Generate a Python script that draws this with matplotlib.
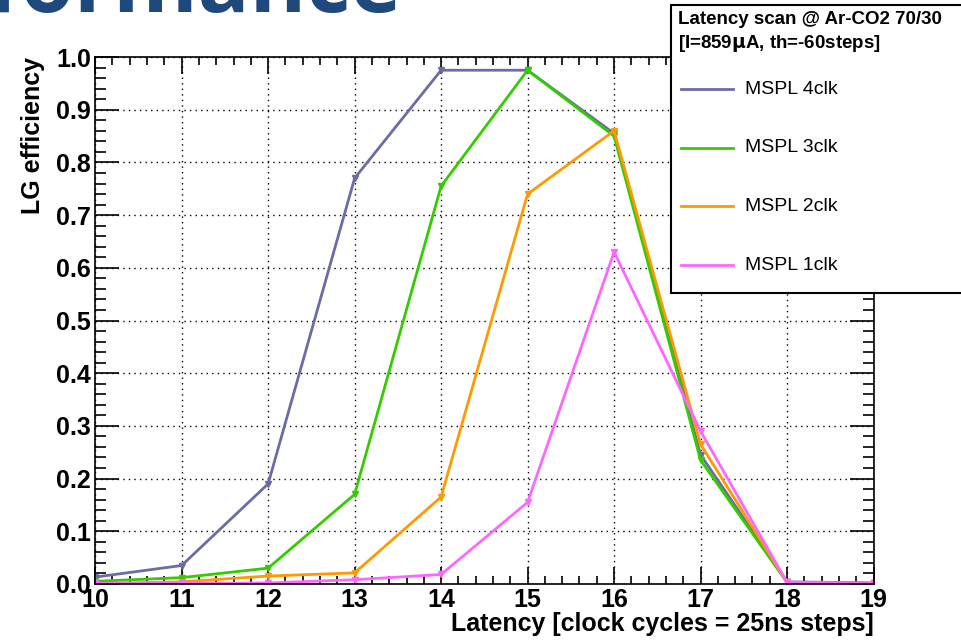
import matplotlib
matplotlib.use("Agg")
import matplotlib.pyplot as plt
from matplotlib.lines import Line2D
from matplotlib.patches import Rectangle
from matplotlib.ticker import MultipleLocator

plt.rcParams['font.family'] = ['Liberation Sans', 'DejaVu Sans']

# data
latency = [10, 11, 12, 13, 14, 15, 16, 17, 18, 19]
eff_4clk = [0.013, 0.035, 0.19, 0.77, 0.975, 0.975, 0.855, 0.245, 0.004, 0.002]
eff_3clk = [0.005, 0.012, 0.030, 0.17, 0.755, 0.975, 0.850, 0.235, 0.003, 0.001]
eff_2clk = [0.001, 0.004, 0.015, 0.021, 0.165, 0.740, 0.860, 0.265, 0.003, 0.001]
eff_1clk = [0.001, 0.001, 0.002, 0.008, 0.018, 0.155, 0.630, 0.290, 0.003, 0.001]
labels = ['MSPL 4clk', 'MSPL 3clk', 'MSPL 2clk', 'MSPL 1clk']
colors = ['#6b6ba6', '#33cc00', '#ff9900', '#ff66ff']
series = [eff_4clk, eff_3clk, eff_2clk, eff_1clk]

fig = plt.figure(figsize=(9.61, 6.41), dpi=100)
ax = fig.add_axes([0.099, 0.089, 0.81, 0.822])

for y, c, lab in zip(series, colors, labels):
    ax.plot(latency, y, color=c, lw=2, marker='v', ms=5, label=lab)

ax.set_xlim(10, 19)
ax.set_ylim(0, 1.0)
ax.xaxis.set_major_locator(MultipleLocator(1))
ax.xaxis.set_minor_locator(MultipleLocator(0.2))
ax.yaxis.set_major_locator(MultipleLocator(0.1))
ax.yaxis.set_minor_locator(MultipleLocator(0.02))
ax.tick_params(which='both', direction='in', top=True, right=True, width=1.2)
ax.tick_params(axis='x', which='major', length=12, labelsize=18, pad=3)
ax.tick_params(axis='x', which='minor', length=6)
ax.tick_params(axis='y', which='major', length=17, labelsize=18, pad=3)
ax.tick_params(axis='y', which='minor', length=8)
ax.set_yticks([i / 10 for i in range(11)])
ax.set_yticklabels(['%.1f' % (i / 10) for i in range(11)], fontweight='bold')
ax.set_xticks(latency)
ax.set_xticklabels([str(v) for v in latency], fontweight='bold')
for s in ax.spines.values():
    s.set_linewidth(1.2)
ax.grid(True, which='major', color='black', ls=(0, (1, 3)), lw=1)

ax.set_xlabel('Latency [clock cycles = 25ns steps]', fontsize=18, fontweight='bold', loc='right', labelpad=0)
ax.set_ylabel('LG efficiency', fontsize=18, fontweight='bold', loc='top', labelpad=8)

# cut-off slide title
fig.text(0.418, 0.982, 'Performance', ha='right', va='baseline', fontsize=62,
         fontweight='bold', color='#1f497d', family=['Open Sans', 'DejaVu Sans'])

# legend box
fig.add_artist(Rectangle((671 / 961, 1 - 293 / 641), 0.4, 288 / 641, transform=fig.transFigure,
                         facecolor='white', edgecolor='black', lw=1.5, zorder=5))
fig.text(678 / 961, 1 - 20 / 641, 'Latency scan @ Ar-CO2 70/30', fontsize=13.5, fontweight='bold',
         va='center', zorder=6)
fig.text(678 / 961, 1 - 44 / 641, '[I=859$\\mathbf{\\mu}$A, th=-60steps]', fontsize=13.5, fontweight='bold',
         va='center', zorder=6)
for i, (c, lab) in enumerate(zip(colors, labels)):
    yy = 1 - (89 + 58.7 * i) / 641
    fig.add_artist(Line2D([681 / 961, 733 / 961], [yy, yy], transform=fig.transFigure,
                          color=c, lw=2, zorder=6))
    fig.text(745 / 961, yy, lab, fontsize=14, va='center', zorder=6)

fig.savefig('out.png', dpi=100)
